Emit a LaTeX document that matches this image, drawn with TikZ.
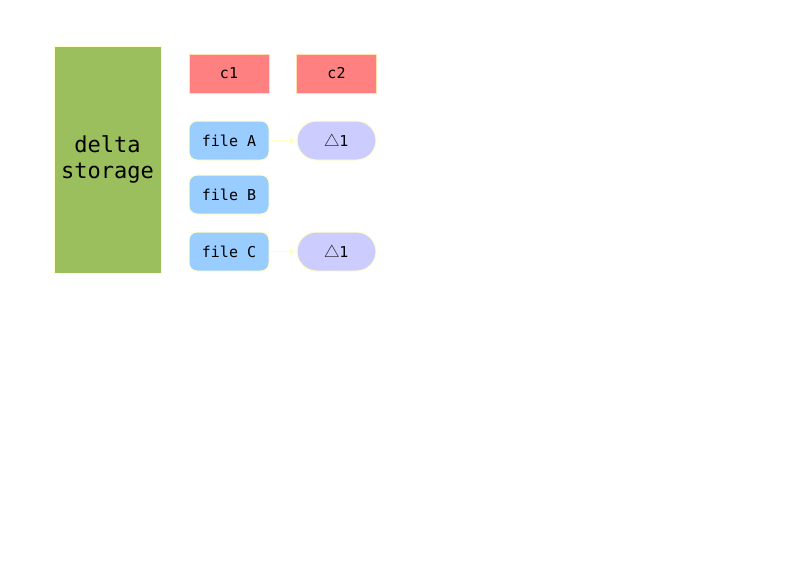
\documentclass[tikz,border=0pt]{standalone}
\usepackage{fontspec}
\setmonofont{DejaVu Sans Mono}
\newfontfamily\symfont{Noto Sans CJK JP}
\usetikzlibrary{arrows.meta,shapes.misc}
\definecolor{greenfill}{HTML}{9BBF5D}
\definecolor{redfill}{HTML}{FF8080}
\definecolor{bluefill}{HTML}{99CCFF}
\definecolor{purplefill}{HTML}{CCCCFF}
\definecolor{paleline}{HTML}{FFFFCC}
\definecolor{paleorange}{HTML}{FFE0B0}
\begin{document}
\begin{tikzpicture}[x=1pt,y=-1pt,
  every node/.style={font=\ttfamily\fontsize{15}{17}\selectfont, inner sep=0pt},
  storebox/.style={draw=paleline, line width=1pt, fill=greenfill, minimum width=107pt, minimum height=227pt, align=center, font=\ttfamily\fontsize{22}{26}\selectfont},
  commitbox/.style={draw=paleorange, line width=1pt, fill=redfill, minimum width=80pt, minimum height=39pt},
  filebox/.style={draw=paleline, line width=1pt, fill=bluefill, rounded corners=8pt, minimum width=80pt, minimum height=39pt},
  deltabox/.style={draw=paleline, line width=1pt, fill=purplefill, rounded rectangle, minimum width=79pt, minimum height=39pt},
  link/.style={draw=paleline, line width=1pt, -{Triangle[length=7pt,width=7pt]}}
]
\useasboundingbox (0,0) rectangle (800,565);
\node[storebox] (store) at (107.5,159.5) {delta\\storage};
\node[commitbox] (c1) at (229,73.5) {c1};
\node[commitbox] (c2) at (336.5,73.5) {c2};
\node[filebox] (fa) at (229,140.5) {file A};
\node[filebox] (fb) at (229,194.5) {file B};
\node[filebox] (fc) at (229,251.5) {file C};
\node[deltabox] (da) at (336.5,140.5) {{\symfont △}1};
\node[deltabox] (dc) at (336.5,251.5) {{\symfont △}1};
\draw[link] (fa) -- (da);
\draw[link] (fc) -- (dc);
\end{tikzpicture}
\end{document}
